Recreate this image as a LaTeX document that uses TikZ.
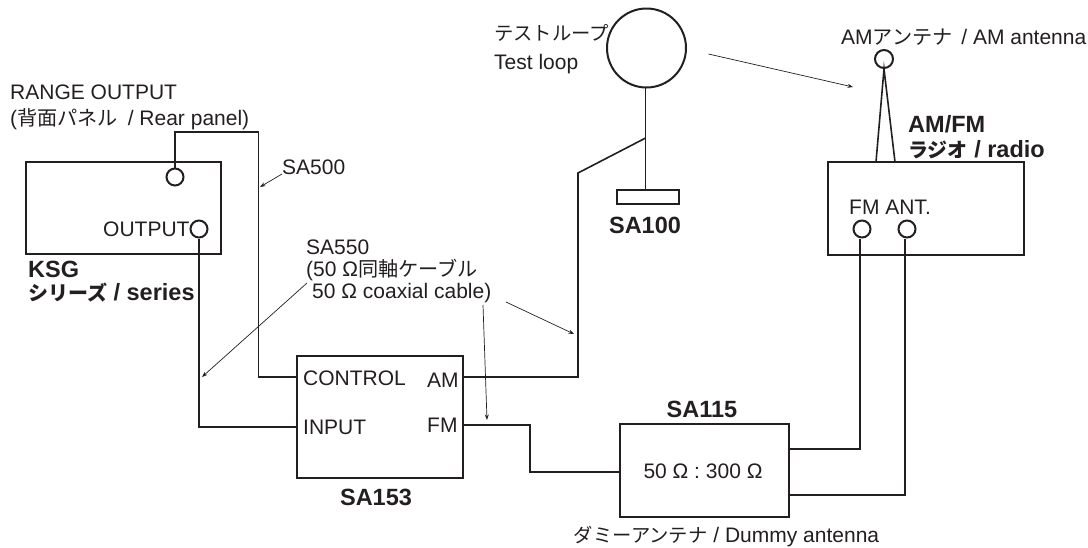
\documentclass[tikz,border=0pt]{standalone}
\usepackage{fontspec}
\setmainfont{Liberation Sans}
\newfontfamily\jafont[Scale=0.92]{Noto Sans CJK JP}
\newfontfamily\jcfont[Scale=0.96]{Noto Sans CJK JP}
\newfontfamily\jbfont[Scale=0.85]{Noto Sans CJK JP}
\newcommand{\ja}[1]{{\jafont #1}}
\newcommand{\jc}[1]{{\jcfont #1}}
\newcommand{\jb}[1]{{\jbfont\bfseries #1}}
\usetikzlibrary{arrows.meta}
\definecolor{ink}{HTML}{231F20}
\tikzset{
  box/.style={draw=ink,line width=2pt,rectangle,inner sep=0pt},
  port/.style={draw=ink,line width=2pt,circle,inner sep=0pt,minimum size=17pt},
  wire/.style={draw=ink,line width=1.6pt,line join=miter},
  lead/.style={draw=ink,line width=0.7pt,-{Stealth[length=5.5pt,width=4pt]}},
  lbl/.style={inner sep=0pt,text=ink,text height=14.5pt,text depth=0pt,font=\fontsize{21}{24}\selectfont},
  lw/.style={lbl,anchor=west},
  lc/.style={lbl,anchor=center},
  bw/.style={lw,text height=16pt,font=\fontsize{23.5}{26}\selectfont\bfseries},
  bc/.style={lc,text height=16pt,font=\fontsize{23.5}{26}\selectfont\bfseries}
}
\begin{document}
\begin{tikzpicture}[x=1pt,y=-1pt]
\useasboundingbox (0,0) rectangle (1088,547);
% boxes
\node[box,minimum width=195pt,minimum height=92pt] (ksg) at (123.5,208) {};
\node[box,minimum width=166pt,minimum height=122pt] (sa153) at (380,417) {};
\node[box,minimum width=168.5pt,minimum height=93pt] (sa115) at (704.7,470.5) {};
\node[box,minimum width=196.5pt,minimum height=93pt] (radio) at (925.8,208.5) {};
\node[box,minimum width=62pt,minimum height=14pt] (base) at (648,197) {};
% ports
\node[port] (range) at (175,177) {};
\node[port] (output) at (199,229) {};
\node[port] (fmp) at (862,229) {};
\node[port] (antp) at (907,229) {};
\node[port,minimum size=18pt] (amant) at (884,59) {};
\node[draw=ink,line width=2pt,circle,inner sep=0pt,minimum size=79pt] (loop) at (646.5,48) {};
% way-points
\coordinate (r1) at (175,132);
\coordinate (r2) at (258.5,132);
\coordinate (r3) at (258.5,377);
\coordinate (ctrl) at (297,377);
\coordinate (o1) at (199,427);
\coordinate (inp) at (297,427);
\coordinate (amo) at (463,377);
\coordinate (am1) at (578,377);
\coordinate (am2) at (578,173);
\coordinate (junc) at (645.6,138);
\coordinate (fmo) at (463,425);
\coordinate (f1) at (530,425);
\coordinate (f2) at (530,472);
\coordinate (dw) at (620.5,472);
\coordinate (de1) at (789,449);
\coordinate (e1) at (860,449);
\coordinate (de2) at (789,495);
\coordinate (e2) at (905,495);
\coordinate (a1) at (876,162);
\coordinate (a2) at (895,162);
\coordinate (stemt) at (645.6,87.5);
\coordinate (stemb) at (645.6,190);
% wires
\draw[wire] (range.north) -- (r1) -- (r2) -- (r3) -- (ctrl);
\draw[wire] (output.south) -- (o1) -- (inp);
\draw[wire] (amo) -- (am1) -- (am2) -- (junc);
\draw[wire] (stemt) -- (stemb);
\draw[wire] (fmo) -- (f1) -- (f2) -- (dw);
\draw[wire] (de1) -- (e1) -- (e1 |- fmp.south);
\draw[wire] (de2) -- (e2) -- (e2 |- antp.south);
\draw[wire] (a1) -- (amant.south) -- (a2);
% leaders
\coordinate (l1s) at (282,174); \coordinate (l1e) at (260,187);
\coordinate (l2s) at (307,283); \coordinate (l2e) at (202,377);
\coordinate (l3s) at (483,305); \coordinate (l3e) at (487,420);
\coordinate (l4s) at (506,302); \coordinate (l4e) at (574,334);
\coordinate (l5s) at (708.5,54); \coordinate (l5e) at (853,87);
\draw[lead] (l1s) -- (l1e);
\draw[lead] (l2s) -- (l2e);
\draw[lead] (l3s) -- (l3e);
\draw[lead] (l4s) -- (l4e);
\draw[lead] (l5s) -- (l5e);
% labels
\node[lw] (t1) at (10,92) {RANGE OUTPUT};
\node[lw] (t2) at (10,118) {(\jc{背面パネル}\kern4pt{} / Rear panel)};
\node[lw] (t3) at (282,167) {SA500};
\node[lw] (t4) at (103,229) {OUTPUT};
\node[bw] (t5) at (28,269) {KSG};
\node[bw] (t6) at (28,292) {\jb{シリーズ} / series};
\node[lw] (t7) at (306,247) {SA550};
\node[lw] (t8) at (306,269) {(50 Ω\jc{同軸ケーブル}};
\node[lw] (t9) at (312,291) {50 Ω coaxial cable)};
\node[lw] (t10) at (303,378) {CONTROL};
\node[lw] (t11) at (427,380) {AM};
\node[lw] (t12) at (303,427) {INPUT};
\node[lw] (t13) at (427,425) {FM};
\node[bc] (t14) at (376,497) {SA153};
\node[lw] (t15) at (494,33) {\ja{テストループ}};
\node[lw] (t16) at (494,62) {Test loop};
\node[bc] (t17) at (645,225) {SA100};
\node[lw] (t18) at (841,37) {AM\jc{アンテナ}\kern3pt{} / AM antenna};
\node[bw] (t19) at (908,124) {AM/FM};
\node[bw] (t20) at (908,149) {\jb{ラジオ} / radio};
\node[lc] (t21) at (890,207) {FM ANT.};
\node[bc] (t22) at (702,409) {SA115};
\node[lc] (t23) at (703,471) {50 Ω : 300 Ω};
\node[lc] (t24) at (726.5,535) {\ja{ダミーアンテナ} / Dummy antenna};
\end{tikzpicture}
\end{document}
